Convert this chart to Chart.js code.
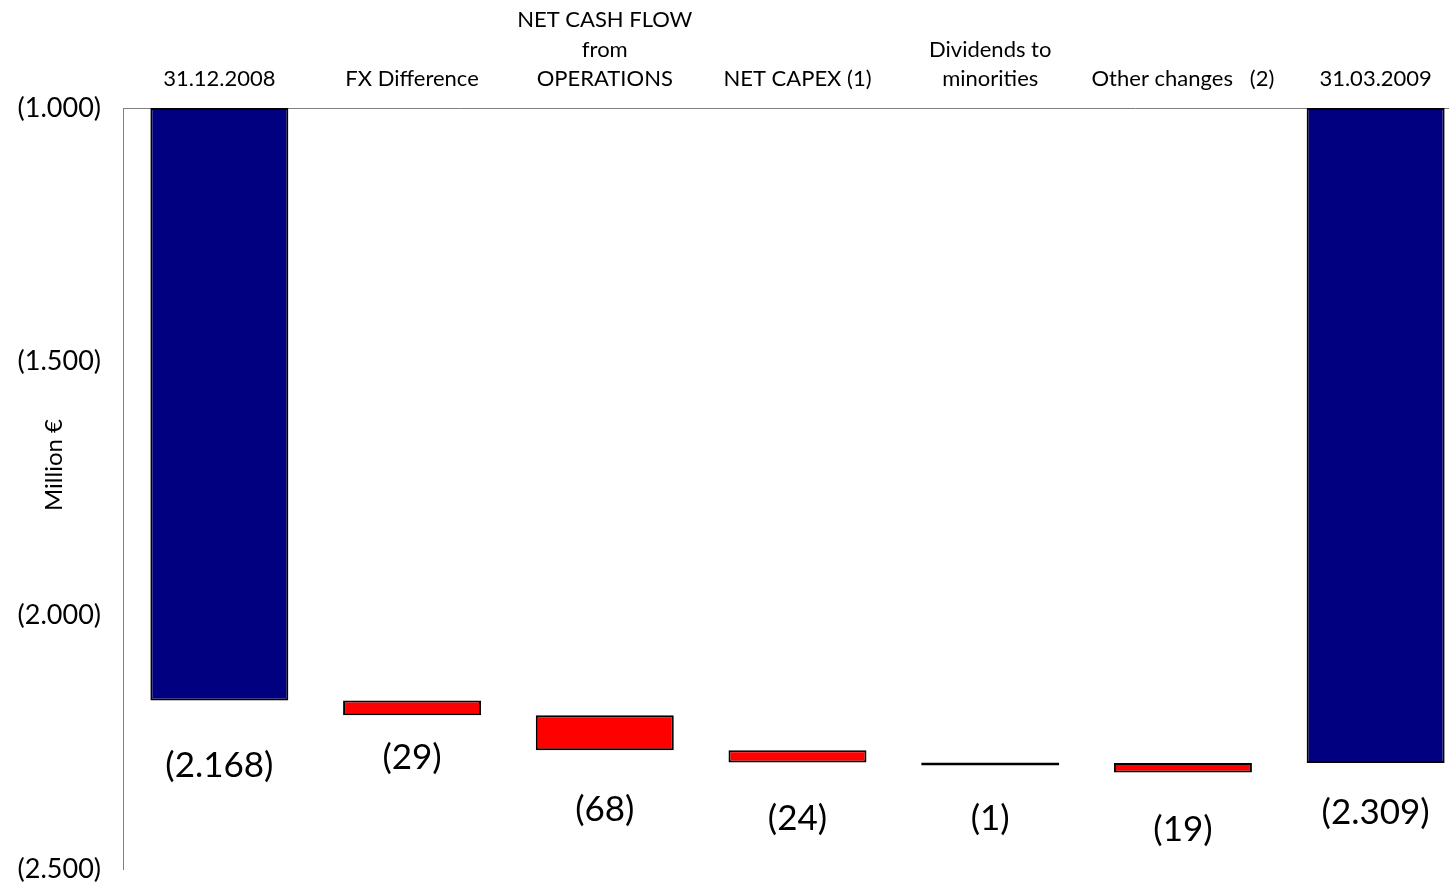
<!DOCTYPE html>
<html>
<head>
<meta charset="utf-8">
<script src="https://cdn.jsdelivr.net/npm/chart.js@4/dist/chart.umd.min.js"></script>
<style>
  html, body { margin: 0; padding: 0; background: #fff; overflow: hidden; }
  #wrap { position: relative; width: 1472px; height: 885px; }
</style>
</head>
<body>
<div id="wrap"><canvas id="c"></canvas></div>
<script>
// ---- data ----
const categories = [
  "31.12.2008",
  "FX Difference",
  ["NET CASH FLOW", "from", "OPERATIONS"],
  "NET CAPEX (1)",
  ["Dividends to", "minorities"],
  "Other changes   (2)",
  "31.03.2009"
];
const barStart = [-1000, -2168, -2197, -2266, -2290, -2291, -1000];
const barEnd   = [-2168, -2197, -2266, -2290, -2291, -2310, -2291];
const valueLabels = ["(2.168)", "(29)", "(68)", "(24)", "(1)", "(19)", "(2.309)"];
const barKinds = ["total", "delta", "delta", "delta", "delta", "delta", "total"];
const yTicks = [-1000, -1500, -2000, -2500];

const FONT = "Lato, 'Open Sans', 'DejaVu Sans', sans-serif";
const kindColor = { total: "#000080", delta: "#FF0000" };
const labelOffsets = [65, 42, 59, 56, 53, 57, 50];

function fmtParen(v) {
  const a = Math.abs(v);
  let s = String(a);
  if (a >= 1000) s = s.slice(0, s.length - 3) + "." + s.slice(-3);
  return "(" + s + ")";
}

const valueLabelPlugin = {
  id: 'valueLabels',
  afterDatasetsDraw(chart) {
    const ctx = chart.ctx;
    const meta = chart.getDatasetMeta(0);
    ctx.save();
    ctx.font = "35px " + FONT;
    ctx.fillStyle = "#000";
    ctx.textAlign = "center";
    ctx.textBaseline = "middle";
    meta.data.forEach((el, i) => {
      const bottom = Math.max(el.y, el.base);
      ctx.fillText(valueLabels[i], el.x, bottom + labelOffsets[i]);
    });
    // y-axis title
    ctx.font = "24px " + FONT;
    ctx.translate(54, 465);
    ctx.rotate(-Math.PI / 2);
    ctx.fillText("Million €", 0, 0);
    ctx.restore();
  }
};

const ctx = document.getElementById('c');
new Chart(ctx, {
  type: 'bar',
  data: {
    labels: categories,
    datasets: [{
      data: barStart.map((s, i) => [s, barEnd[i]]),
      backgroundColor: barKinds.map(k => kindColor[k]),
      borderColor: "#000",
      borderWidth: 2,
      borderSkipped: false,
      minBarLength: 3,
      barPercentage: 0.716,
      categoryPercentage: 1.0
    }]
  },
  options: {
    responsive: true,
    maintainAspectRatio: false,
    animation: false,
    layout: { padding: { top: 0, left: 0, right: 0, bottom: 16 } },
    plugins: { legend: { display: false }, tooltip: { enabled: false } },
    scales: {
      x: {
        position: 'top',
        grid: { display: false, drawTicks: false },
        border: { display: true, color: "#808080", width: 1 },
        ticks: {
          font: { family: FONT, size: 22, lineHeight: 1.32 },
          color: "#000",
          padding: 15,
          maxRotation: 0,
          autoSkip: false
        },
        afterFit(scale) { scale.height = 108; scale.paddingLeft = 0; scale.paddingRight = 0; }
      },
      y: {
        min: -2500,
        max: -1000,
        grid: { display: false, drawTicks: false },
        border: { display: true, color: "#808080", width: 1 },
        afterBuildTicks(scale) { scale.ticks = yTicks.map(v => ({ value: v })); },
        ticks: {
          font: { family: FONT, size: 27 },
          color: "#000",
          padding: 22,
          callback: v => fmtParen(v)
        },
        afterFit(scale) { scale.width = 123; scale.paddingTop = 0; scale.paddingBottom = 0; }
      }
    }
  },
  plugins: [valueLabelPlugin]
});
</script>
</body>
</html>
